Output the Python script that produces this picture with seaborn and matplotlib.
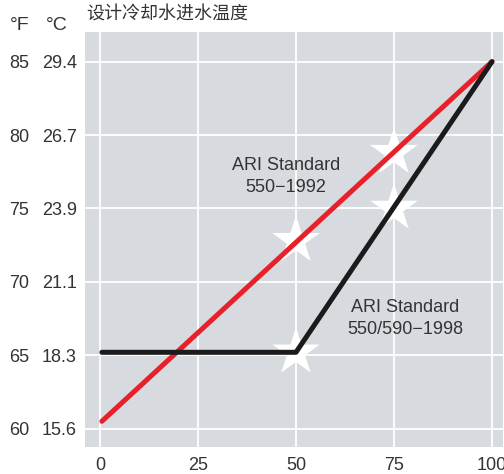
import matplotlib
matplotlib.use("Agg")
import matplotlib.pyplot as plt
import seaborn as sns
import numpy as np
import pandas as pd

sns.set_theme(style="darkgrid", rc={"axes.facecolor": "#d7dadf",
                                    "grid.color": "white", "grid.linewidth": 1.3})
plt.rcParams['font.family'] = ['Liberation Sans', 'Noto Sans CJK SC', 'DejaVu Sans']

# load (%) vs entering condenser water temperature (°F)
load_1992 = [0.5, 100]
temp_1992 = [60.5, 85]
load_1998 = [0.5, 50, 100]
temp_1998 = [65.2, 65.2, 85]
star_load = [50, 75, 50, 75]
star_temp = [72.8, 78.8, 65.2, 75]

f_ticks = [60, 65, 70, 75, 80, 85]
x_ticks = [0, 25, 50, 75, 100]

df92 = pd.DataFrame({"load": load_1992, "temp": temp_1992})
df98 = pd.DataFrame({"load": load_1998, "temp": temp_1998})
dfs = pd.DataFrame({"load": star_load, "temp": star_temp})

fig = plt.figure(figsize=(5.04, 4.74), dpi=100)
ax = fig.add_axes([0.1687, 0.057, 0.8293, 0.8755])

sns.scatterplot(data=dfs, x="load", y="temp", marker="*", s=1300, color="white",
                edgecolor="none", ax=ax, zorder=2)
sns.lineplot(data=df92, x="load", y="temp", color="#e8202a", linewidth=3.6,
             ax=ax, zorder=3)
sns.lineplot(data=df98, x="load", y="temp", color="#1c1a1a", linewidth=3.6,
             ax=ax, zorder=3)

ax.set_xlim(-3.8, 102.8)
ax.set_ylim(58.75, 87.02)
ax.set_xticks(x_ticks)
ax.set_yticks(f_ticks)
ax.set_xlabel("")
ax.set_ylabel("")
txt = "#333333"
ax.tick_params(axis="x", length=0, pad=7, labelsize=13, labelcolor=txt)
ax.tick_params(axis="y", length=0, pad=40, labelsize=13, labelcolor=txt)

sec = ax.secondary_yaxis("left", functions=(lambda f: (f - 32) * 5 / 9,
                                            lambda c: c * 9 / 5 + 32))
sec.set_yticks([(f - 32) * 5 / 9 for f in f_ticks])
sec.set_yticklabels([f"{(f - 32) * 5 / 9:.1f}" for f in f_ticks])
sec.tick_params(length=0, pad=6, labelsize=13, labelcolor=txt)
for s in sec.spines.values():
    s.set_visible(False)
for s in ax.spines.values():
    s.set_visible(False)

ax.text(47.4, 77.2, "ARI Standard\n550\u22121992", ha="center", va="center",
        fontsize=13, color=txt, linespacing=1.4)
ax.text(77.8, 67.5, "ARI Standard\n550/590\u22121998", ha="center", va="center",
        fontsize=13, color=txt, linespacing=1.4)

fig.text(20 / 504, 1 - 25 / 474, "°F", ha="center", va="center", fontsize=14, color=txt)
fig.text(57 / 504, 1 - 25 / 474, "°C", ha="center", va="center", fontsize=14, color=txt)
fig.text(86 / 504, 1 - 15 / 474, "设计冷却水进水温度", ha="left", va="center",
         fontsize=13, color=txt)

fig.savefig("out.png", dpi=100)
